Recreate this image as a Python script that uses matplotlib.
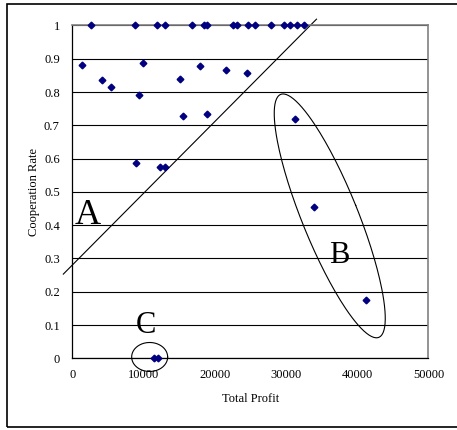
import numpy as np
import matplotlib
matplotlib.use('Agg')
import matplotlib.pyplot as plt
from matplotlib.patches import Rectangle

# datos
profit = [2620, 8850, 11840, 12960, 16790, 18470, 18840, 22500, 23060, 24600,
          25620, 27830, 29730, 30530, 31610, 32540,
          1320, 4210, 5470, 9310, 9960, 8980, 12300, 13040, 15060, 15530,
          17950, 18890, 21560, 24500, 31330, 33900, 41190, 11460, 11970]
coop = [1.0] * 16 + [0.880, 0.835, 0.815, 0.790, 0.888, 0.586, 0.575, 0.575,
                     0.838, 0.727, 0.878, 0.733, 0.866, 0.858, 0.720, 0.455,
                     0.174, 0.0, 0.0]
x_ticks = [0, 10000, 20000, 30000, 40000, 50000]
y_ticks = [0, 0.1, 0.2, 0.3, 0.4, 0.5, 0.6, 0.7, 0.8, 0.9, 1]

plt.rcParams['font.family'] = ['Liberation Serif', 'DejaVu Serif']

fig = plt.figure(figsize=(4.57, 4.30), dpi=100)
ax = fig.add_axes([0.1582, 0.1667, 0.7794, 0.7740])

ax.set_xlim(0, 50000)
ax.set_ylim(0, 1)
ax.set_xticks(x_ticks)
ax.set_yticks(y_ticks)
ax.set_yticklabels([f'{v:g}' for v in y_ticks])
ax.tick_params(length=0, labelsize=9, pad=9)
ax.tick_params(axis='x', pad=8)
ax.grid(axis='y', color='black', linewidth=0.8)
ax.set_axisbelow(True)
for side in ['top', 'right']:
    ax.spines[side].set_color('#808080')
    ax.spines[side].set_linewidth(1.2)
ax.spines['left'].set_linewidth(0.9)
ax.spines['bottom'].set_linewidth(0.9)

ax.plot(profit, coop, linestyle='none', marker='D', markersize=3.4,
        color='#000080', clip_on=False, zorder=3)

ax.set_xlabel('Total Profit', fontsize=9, labelpad=8)
ax.set_ylabel('Cooperation Rate', fontsize=9, labelpad=3)

# anotaciones: linea diagonal, elipse B y circulo C
ax.plot([-1262, 34278], [0.253, 1.019], color='black', linewidth=0.8,
        clip_on=False)

px_x = 356.2 / 50000
px_y = 332.8
t = np.linspace(0, 2 * np.pi, 200)

def ellipse_px(cx, cy, w, h, angle):
    a = np.deg2rad(angle)
    ex = w / 2 * np.cos(t)
    ey = h / 2 * np.sin(t)
    rx = ex * np.cos(a) - ey * np.sin(a)
    ry = ex * np.sin(a) + ey * np.cos(a)
    return cx + rx / px_x, cy + ry / px_y

bx, by = ellipse_px(36140, 0.428, 56, 262, 22)
ax.plot(bx, by, color='black', linewidth=0.8, clip_on=False)
cxs, cys = ellipse_px(10860, 0.004, 36, 29, 0)
ax.plot(cxs, cys, color='black', linewidth=0.8, clip_on=False)

ax.text(2130, 0.429, 'A', fontsize=26, ha='center', va='center')
ax.text(37540, 0.310, 'B', fontsize=22, ha='center', va='center')
ax.text(10340, 0.100, 'C', fontsize=22, ha='center', va='center')

# marco exterior
fig.add_artist(Rectangle((7 / 457, 3 / 430), 1.0, 423 / 430,
                         transform=fig.transFigure, fill=False,
                         edgecolor='black', linewidth=1.2))

fig.savefig('out.png', dpi=100)
